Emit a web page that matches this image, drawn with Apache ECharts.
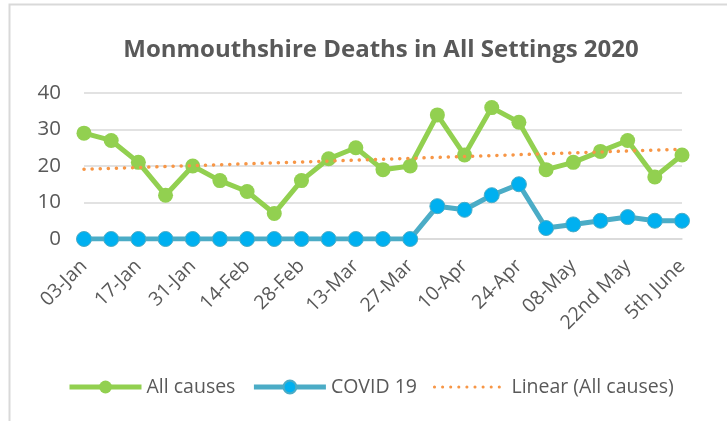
<!DOCTYPE html>
<html>
<head>
<meta charset="utf-8">
<script src="https://cdn.jsdelivr.net/npm/echarts@6/dist/echarts.min.js"></script>
<style>
html,body{margin:0;padding:0;background:#fff;}
#chart{width:727px;height:421px;}
</style>
</head>
<body>
<div id="chart"></div>
<script>
var categories = ['03-Jan','10-Jan','17-Jan','24-Jan','31-Jan','07-Feb','14-Feb','21-Feb','28-Feb','06-Mar','13-Mar','20-Mar','27-Mar','03-Apr','10-Apr','17-Apr','24-Apr','01-May','08-May','15th May','22nd May','29th May','5th June'];
var allCauses = [29,27,21,12,20,16,13,7,16,22,25,19,20,34,23,36,32,19,21,24,27,17,23];
var covid19 = [0,0,0,0,0,0,0,0,0,0,0,0,0,9,8,12,15,3,4,5,6,5,5];
var trendStart = 19.1;
var trendEnd = 24.6;
var yTicks = [0,10,20,30,40];

var font = '"Open Sans", sans-serif';
var chart = echarts.init(document.getElementById('chart'));
chart.setOption({
  animation: false,
  backgroundColor: '#fff',
  textStyle: {fontFamily: font},
  graphic: [{
    type: 'polyline',
    shape: {points: [[9.5, 421], [9.5, 4.5], [727, 4.5]]},
    style: {stroke: '#d9d9d9', lineWidth: 2, fill: null},
    silent: true
  }],
  title: {
    text: 'Monmouthshire Deaths in All Settings 2020',
    left: 376, top: 33, textAlign: 'center',
    textStyle: {fontFamily: font, fontSize: 24, fontWeight: 'bold', color: '#595959'}
  },
  legend: {
    left: 62, top: 372,
    itemWidth: 72, itemHeight: 16, itemGap: 16,
    textStyle: {fontFamily: font, fontSize: 19.5, color: '#595959'},
    data: [
      {name: 'All causes', lineStyle: {width: 5}},
      {name: 'COVID 19', lineStyle: {width: 5}},
      {name: 'Linear (All causes)', lineStyle: {width: 3}, itemStyle: {opacity: 0}}
    ]
  },
  grid: {left: 84, right: 45, top: 93, bottom: 182, containLabel: false},
  xAxis: {
    type: 'category',
    data: categories,
    boundaryGap: false,
    axisLine: {show: true, lineStyle: {color: '#d9d9d9', width: 1.5}},
    axisTick: {show: false},
    axisLabel: {interval: 1, rotate: 45, margin: 24, fontSize: 19.5, color: '#595959', fontFamily: font}
  },
  yAxis: {
    type: 'value',
    min: yTicks[0], max: yTicks[yTicks.length - 1], interval: 10,
    axisLine: {show: false},
    axisTick: {show: false},
    axisLabel: {margin: 23, fontSize: 20.5, color: '#595959', fontFamily: font},
    splitLine: {lineStyle: {color: '#d9d9d9', width: 1.5}}
  },
  series: [{
    name: 'All causes',
    type: 'line',
    data: allCauses,
    symbol: 'circle', symbolSize: 15,
    lineStyle: {color: '#92D050', width: 5},
    itemStyle: {color: '#92D050'},
    z: 3
  }, {
    name: 'COVID 19',
    type: 'line',
    data: covid19,
    symbol: 'circle', symbolSize: 15,
    lineStyle: {color: '#4BACC6', width: 5},
    itemStyle: {color: '#00B0F0', borderColor: '#4BACC6', borderWidth: 1},
    z: 3
  }, {
    name: 'Linear (All causes)',
    type: 'line',
    data: [[0, trendStart], [categories.length - 1, trendEnd]],
    symbol: 'none',
    lineStyle: {color: '#F79646', width: 3.5, type: [0.1, 8], cap: 'round'},
    itemStyle: {color: '#F79646'},
    z: 4
  }]
});
</script>
</body>
</html>
